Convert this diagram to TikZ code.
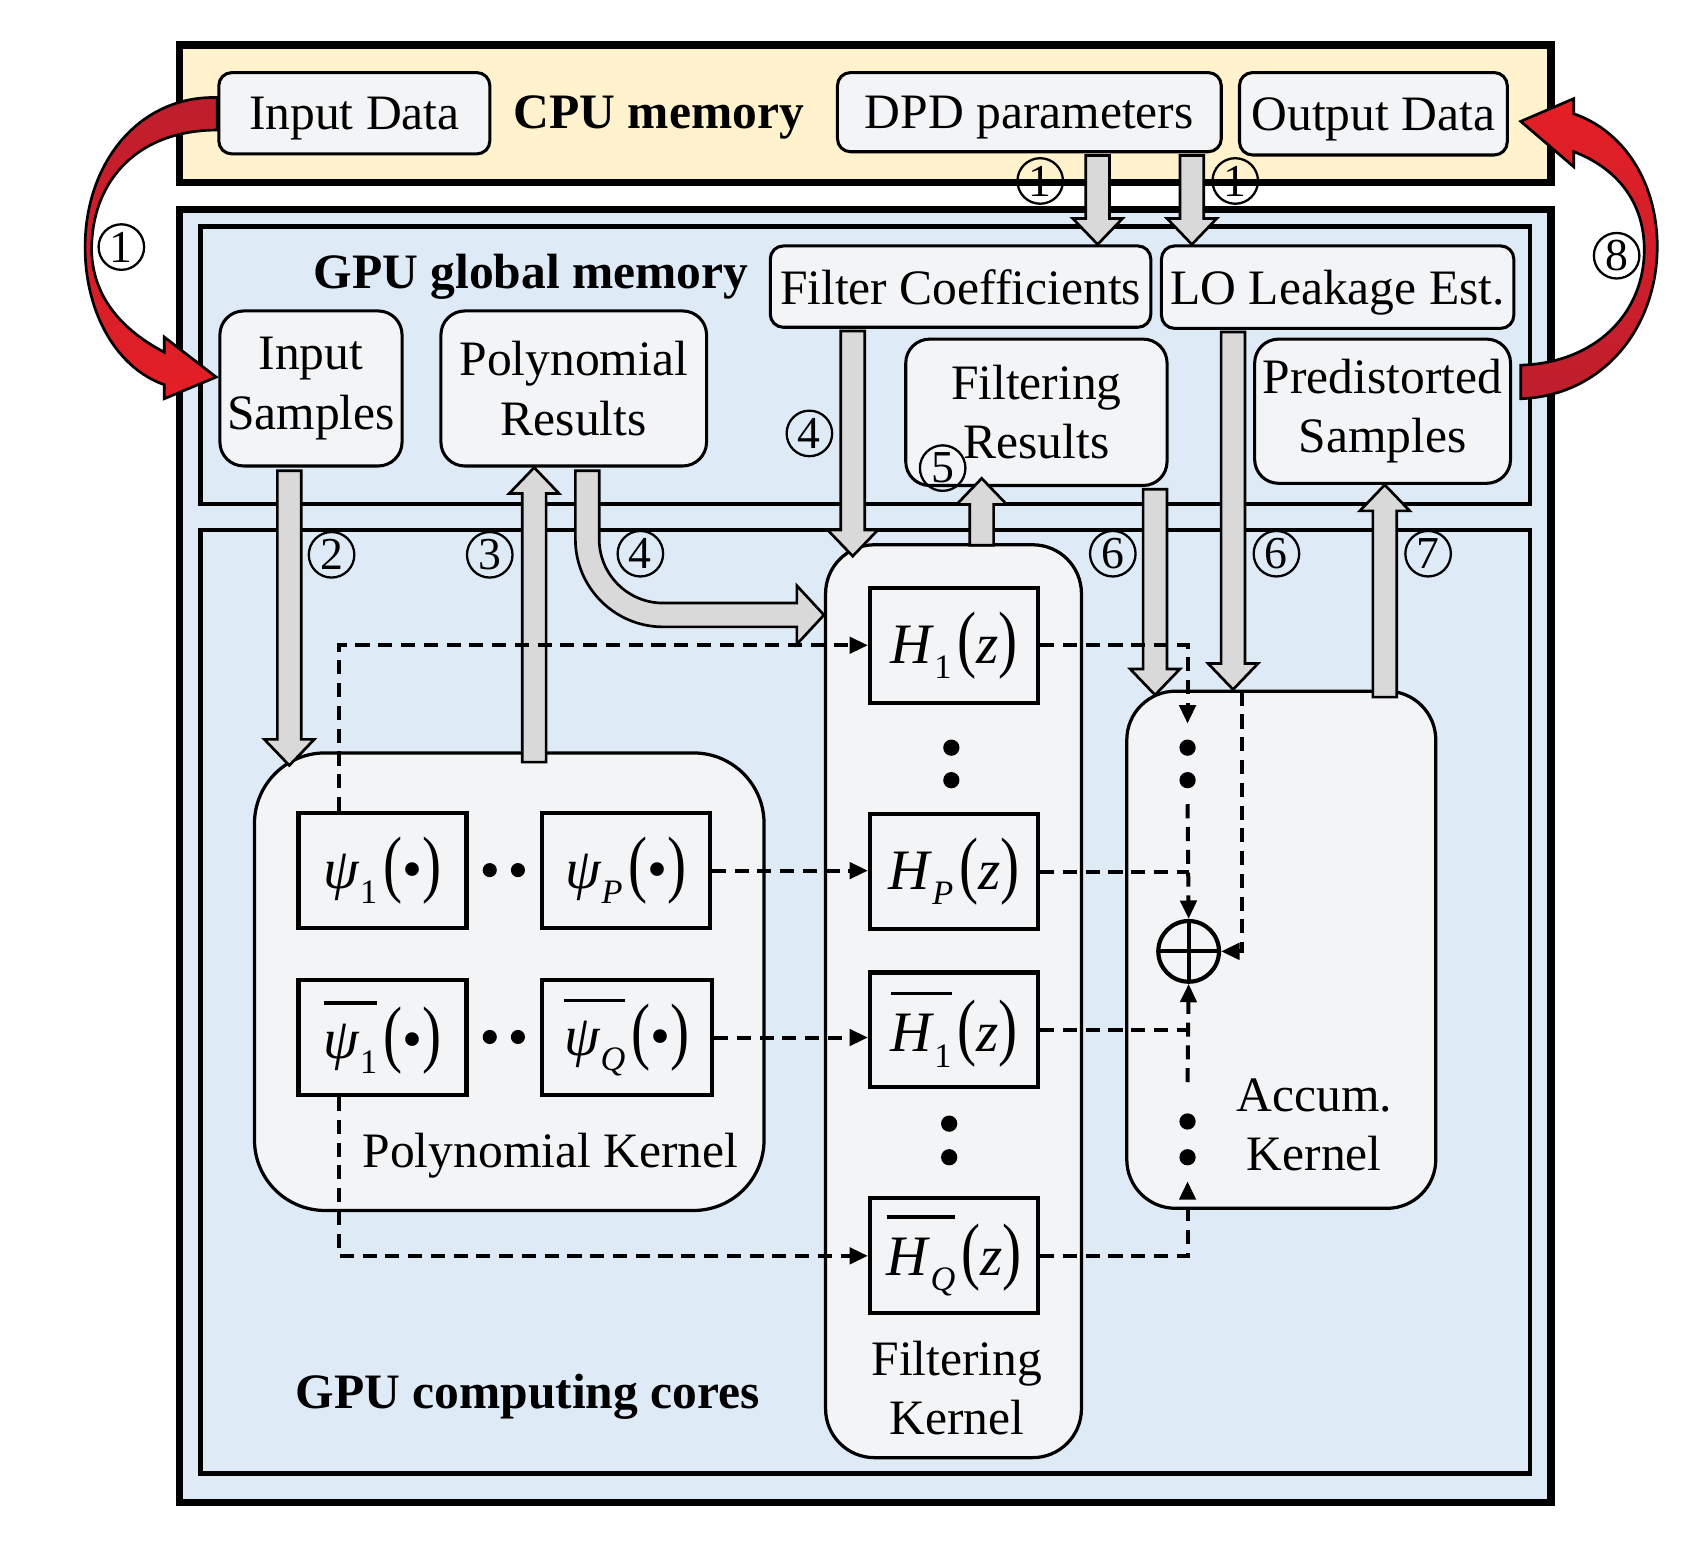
\documentclass[tikz,border=0pt]{standalone}
\usepackage{graphicx}
\usepackage{fontspec}
\setmainfont{Liberation Serif}
\usetikzlibrary{positioning,calc,arrows.meta}

\definecolor{cpuyellow}{HTML}{FFF2CC}
\definecolor{gpublue}{HTML}{DEEBF7}
\definecolor{boxgray}{HTML}{F3F4F6}
\definecolor{fatgray}{HTML}{D9D9D9}
\definecolor{darkred}{HTML}{BE1E2D}
\definecolor{brightred}{HTML}{E51F26}

\tikzset{
  memnode/.style={draw, line width=0.8pt, fill=boxgray, rounded corners=1.2mm, align=center, inner sep=0pt},
  memnodeone/.style={memnode, text depth=0pt},
  memnodetall/.style={memnode, rounded corners=2.2mm},
  kernel/.style={draw, line width=0.85pt, fill=boxgray},
  fnbox/.style={draw, line width=1.1pt, fill=boxgray, inner sep=0pt, minimum width=1.55cm, minimum height=1.06cm, font=\fontsize{15}{18}\selectfont},
  boldlbl/.style={font=\fontsize{13}{15.6}\selectfont\bfseries, text depth=0pt},
  numcirc/.style={draw, circle, line width=0.6pt, inner sep=0pt, minimum size=4.2mm, font=\fontsize{12}{12}\selectfont},
  dotnode/.style={circle, fill=black, inner sep=0pt, minimum size=1.5mm},
  fatarr/.style={draw=black, line width=0.7pt, fill=fatgray},
  redarr/.style={draw=black, line width=0.7pt},
  dashline/.style={line width=1.05pt, dash pattern=on 1.3mm off 0.8mm},
  dasharr/.style={dashline, -{Triangle[length=1.7mm,width=1.5mm]}},
}

% filter / polynomial labels
\newcommand{\bigpar}[1]{\scalebox{1}[1.3]{#1}}
\newcommand{\subx}[1]{\raisebox{-4pt}{\fontsize{9}{9}\selectfont #1}}
\newcommand{\ovl}[2][5pt]{\vbox{\hrule height 0.9pt\kern#1\hbox{#2}}}
\newcommand{\kfun}[3]{#1\subx{#2}\kern1.5pt\bigpar{(}#3\bigpar{)}}
\newcommand{\kfunbar}[3]{\ovl{#1\subx{#2}}\kern1.5pt\bigpar{(}#3\bigpar{)}}

% thick grey transfer arrows
\newcommand{\fatdown}[2]{%
  \filldraw[fatarr] ($(#1)+(-11,0)$) -- ($(#2)+(-11,-24)$) -- ($(#2)+(-23,-24)$) -- (#2)
    -- ($(#2)+(23,-24)$) -- ($(#2)+(11,-24)$) -- ($(#1)+(11,0)$) -- cycle;}
\newcommand{\fatup}[2]{%
  \filldraw[fatarr] ($(#1)+(-11,0)$) -- ($(#2)+(-11,24)$) -- ($(#2)+(-23,24)$) -- (#2)
    -- ($(#2)+(23,24)$) -- ($(#2)+(11,24)$) -- ($(#1)+(11,0)$) -- cycle;}

\begin{document}
\begin{tikzpicture}[x=0.01cm, y=-0.01cm, every node/.style={font=\fontsize{13}{15.6}\selectfont}]
  \useasboundingbox (0,0) rectangle (1568,1426);

  % ── memory areas ──────────────────────────────────────────
  \draw[line width=1.9pt, fill=cpuyellow] (165.5,41.5) rectangle (1431.5,168.5);
  \draw[line width=1.9pt, fill=gpublue] (165.5,193.5) rectangle (1431.5,1386.5);
  \draw[line width=1.2pt] (185,209) rectangle (1412,465);
  \draw[line width=1.2pt] (185,489) rectangle (1412,1360);

  % ── CPU memory ────────────────────────────────────────────
  \node[memnodeone, minimum width=2.50cm, minimum height=0.75cm] (indata) at (327,104.5) {Input Data};
  \node[boldlbl] (cpulbl) at (608,103) {CPU memory};
  \node[memnodeone, minimum width=3.54cm, minimum height=0.73cm] (dpd) at (950,103.5) {DPD parameters};
  \node[memnodeone, minimum width=2.47cm, minimum height=0.76cm] (outdata) at (1267.5,105) {Output Data};

  % ── GPU global memory ─────────────────────────────────────
  \node[boldlbl] (gmemlbl) at (490,250) {GPU global memory};
  \node[memnodeone, minimum width=3.51cm, minimum height=0.75cm] (fcoef) at (886.5,264.5) {Filter Coefficients};
  \node[memnodeone, minimum width=3.25cm, minimum height=0.76cm] (lole) at (1234.5,265) {LO Leakage Est.};
  \node[memnodetall, minimum width=1.68cm, minimum height=1.43cm] (insamp) at (287,358.5) {Input\\Samples};
  \node[memnodetall, minimum width=2.45cm, minimum height=1.43cm] (polres) at (529.5,358.5) {Polynomial\\Results};
  \node[memnodetall, minimum width=2.41cm, minimum height=1.35cm] (filres) at (956.5,380.5) {Filtering\\Results};
  \node[memnodetall, minimum width=2.36cm, minimum height=1.33cm] (predist) at (1276,379.5) {Predistorted\\Samples};

  % ── GPU computing cores ───────────────────────────────────
  \node[kernel, rounded corners=6.5mm, minimum width=4.70cm, minimum height=4.22cm] (polyk) at (470,906) {};
  \node[kernel, rounded corners=4.5mm, minimum width=2.36cm, minimum height=8.42cm] (filtk) at (880,924) {};
  \node[kernel, rounded corners=4.5mm, minimum width=2.85cm, minimum height=4.77cm] (accumk) at (1182.5,876.5) {};

  \node[fnbox] (psi1) at (353,803.5) {\kfun{\textit{ψ}}{1}{\textbullet}};
  \node[fnbox] (psiP) at (577.5,803.5) {\kfun{\textit{ψ}}{\textit{P}}{\textbullet}};
  \node[fnbox] (psib1) at (353,957.5) {\kfunbar{\textit{ψ}}{1}{\textbullet}};
  \node[fnbox, minimum width=1.57cm] (psibQ) at (578.5,957.5) {\kfunbar{\textit{ψ}}{\textit{Q}}{\textbullet}};
  \node[dotnode, minimum size=1.3mm] (pd1) at (452,803) {};
  \node[dotnode, minimum size=1.3mm] (pd2) at (478,803) {};
  \node[dotnode, minimum size=1.3mm] (pd3) at (452,957) {};
  \node[dotnode, minimum size=1.3mm] (pd4) at (478,957) {};
  \node[text depth=0pt] (polyklbl) at (508,1062) {Polynomial Kernel};

  \node[fnbox] (h1) at (880.5,595.5) {\kfun{\textit{H}}{1}{\textit{z}}};
  \node[fnbox] (hP) at (880.5,804.5) {\kfun{\textit{H}}{\textit{P}}{\textit{z}}};
  \node[fnbox] (hb1) at (880.5,950.5) {\kfunbar{\textit{H}}{1}{\textit{z}}};
  \node[fnbox] (hbQ) at (880.5,1159) {\kfunbar{\textit{H}}{\textit{Q}}{\textit{z}}};
  \node[dotnode] (fd1) at (878,690) {};
  \node[dotnode] (fd2) at (878,720) {};
  \node[dotnode] (fd3) at (876,1037) {};
  \node[dotnode] (fd4) at (876,1068) {};
  \node[align=center] (filtklbl) at (883,1281) {Filtering\\Kernel};

  \node[draw, circle, line width=1.1pt, minimum size=5.6mm, inner sep=0pt,
        path picture={\draw[line width=1.1pt] (path picture bounding box.north) -- (path picture bounding box.south)
                      (path picture bounding box.west) -- (path picture bounding box.east);}] (sum) at (1097,878) {};
  \node[dotnode] (ad1) at (1096,690) {};
  \node[dotnode] (ad2) at (1096,720) {};
  \node[dotnode] (ad3) at (1096,1035) {};
  \node[dotnode] (ad4) at (1096,1068) {};
  \node[align=center] (accumlbl) at (1213,1038) {Accum.\\Kernel};

  \node[boldlbl] (corelbl) at (487,1284) {GPU computing cores};

  % ── grey transfers ────────────────────────────────────────
  \coordinate (a1s) at ($(dpd.south)+(63,2)$);
  \coordinate (a1t) at (a1s |- fcoef.north);
  \fatdown{a1s}{a1t}
  \coordinate (a2s) at ($(dpd.south)+(150,2)$);
  \coordinate (a2t) at (a2s |- lole.north);
  \fatdown{a2s}{a2t}
  \coordinate (a3s) at ($(insamp.south)+(-20,3)$);
  \coordinate (a3t) at ($(a3s |- polyk.north)+(0,13)$);
  \fatdown{a3s}{a3t}
  \coordinate (a4s) at ($(polyk.north)+(23,10)$);
  \coordinate (a4t) at (a4s |- polres.south);
  \fatup{a4s}{a4t}
  \coordinate (a5s) at ($(fcoef.south)+(-99.5,2)$);
  \coordinate (a5t) at ($(a5s |- filtk.north)+(0,12)$);
  \fatdown{a5s}{a5t}
  \coordinate (a6s) at ($(filtk.north)+(26,2)$);
  \coordinate (a6t) at ($(a6s |- filres.south)+(0,-8)$);
  \fatup{a6s}{a6t}
  \coordinate (a7s) at ($(filres.south)+(109.5,2)$);
  \coordinate (a7t) at ($(a7s |- accumk.north)+(0,5)$);
  \fatdown{a7s}{a7t}
  \coordinate (a8s) at ($(lole.south)+(-96.5,2)$);
  \coordinate (a8t) at (a8s |- accumk.north);
  \fatdown{a8s}{a8t}
  \coordinate (a9s) at ($(accumk.north)+(95.5,7)$);
  \coordinate (a9t) at (a9s |- predist.south);
  \fatup{a9s}{a9t}
  % bent transfer into the filtering kernel
  \coordinate (b4s) at ($(polres.south)+(12.5,3)$);
  \coordinate (b4t) at ($(filtk.west |- h1.north)+(0,27)$);
  \coordinate (b4k) at (b4s |- b4t);
  \filldraw[fatarr] ($(b4s)+(-11,0)$) -- ($(b4k)+(-11,-70)$)
    .. controls ($(b4k)+(-11,-25.3)$) and ($(b4k)+(25.3,11)$) .. ($(b4k)+(70,11)$)
    -- ($(b4t)+(-25,11)$) -- ($(b4t)+(-25,27)$) -- (b4t) -- ($(b4t)+(-25,-27)$) -- ($(b4t)+(-25,-11)$)
    -- ($(b4k)+(70,-11)$) .. controls ($(b4k)+(37.4,-11)$) and ($(b4k)+(11,-37.4)$) .. ($(b4k)+(11,-70)$)
    -- ($(b4s)+(11,0)$) -- cycle;

  % ── dashed data paths ─────────────────────────────────────
  \draw[dasharr] ($(psi1.north)+(-40,0)$) |- (h1.west);
  \draw[dasharr] (psiP.east) -- (psiP.east -| hP.west);
  \draw[dasharr] (psibQ.east) -- (psibQ.east -| hb1.west);
  \draw[dasharr] ($(psib1.south)+(-40,0)$) |- (hbQ.west);
  \draw[dasharr] (h1.east) -| ([yshift=1.4mm]ad1.north);
  \draw[dasharr] ([yshift=-1.4mm]ad2.south) -- (sum.north);
  \draw[dashline] (hP.east) -- (hP.east -| sum.north);
  \draw[dashline] (hb1.east) -- (hb1.east -| sum.south);
  \draw[dasharr] ([yshift=2.8mm]ad3.north) -- (sum.south);
  \draw[dasharr] (hbQ.east) -| ([yshift=-1.4mm]ad4.south);
  \coordinate (ldash) at ($(a8t)+(8,2)$);
  \draw[dasharr] (ldash) |- (sum.east);

  % ── host transfers ────────────────────────────────────────
  \coordinate (r1s) at (indata.west);
  \coordinate (r1t) at ($(insamp.west)+(-2,-10.5)$);
  \path[redarr, top color=darkred, bottom color=brightred]
    ($(r1s)+(0,-14.5)$) .. controls ($(r1s)+(-72,-16.5)$) and ($(r1s)+(-122,45.5)$) .. ($(r1s)+(-122,123.5)$)
    .. controls ($(r1t)+(-121,-58)$) and ($(r1t)+(-91,-8)$) .. ($(r1t)+(-48,7)$)
    -- ($(r1t)+(-48,20)$) -- (r1t) -- ($(r1t)+(-48,-37)$) -- ($(r1t)+(-48,-23)$)
    .. controls ($(r1t)+(-86,-43)$) and ($(r1t)+(-114,-73)$) .. ($(r1s)+(-116,126.5)$)
    .. controls ($(r1s)+(-116,60.5)$) and ($(r1s)+(-72,15.5)$) .. ($(r1s)+(0,15.5)$) -- cycle;
  \coordinate (r8s) at ($(predist.east)+(8,-27)$);
  \coordinate (r8t) at ($(outdata.east)+(11,7)$);
  \path[redarr, top color=brightred, bottom color=darkred]
    ($(r8s)+(0,15.5)$) .. controls ($(r8s)+(78,12.5)$) and ($(r8s)+(127,-52.5)$) .. ($(r8s)+(126,-127.5)$)
    .. controls ($(r8t)+(125,53)$) and ($(r8t)+(93,8)$) .. ($(r8t)+(49,-7)$)
    -- ($(r8t)+(49,-21)$) -- (r8t) -- ($(r8t)+(49,42)$) -- ($(r8t)+(49,28)$)
    .. controls ($(r8t)+(88,43)$) and ($(r8t)+(113,73)$) .. ($(r8s)+(114,-124.5)$)
    .. controls ($(r8s)+(115,-62.5)$) and ($(r8s)+(68,-17.5)$) .. ($(r8s)+(0,-15.5)$) -- cycle;

  % ── step numbers ──────────────────────────────────────────
  \node[numcirc] (n1a) at (112,228) {1};
  \node[numcirc] (n1b) at (960,167) {1};
  \node[numcirc] (n1c) at (1140,167) {1};
  \node[numcirc] (n2) at (306,512) {2};
  \node[numcirc] (n3) at (452,512) {3};
  \node[numcirc] (n4a) at (591,511) {4};
  \node[numcirc] (n4b) at (747,400) {4};
  \node[numcirc] (n5) at (870,432) {5};
  \node[numcirc] (n6a) at (1027,511) {6};
  \node[numcirc] (n6b) at (1178,511) {6};
  \node[numcirc] (n7) at (1318,511) {7};
  \node[numcirc] (n8) at (1492,236) {8};

\end{tikzpicture}
\end{document}
